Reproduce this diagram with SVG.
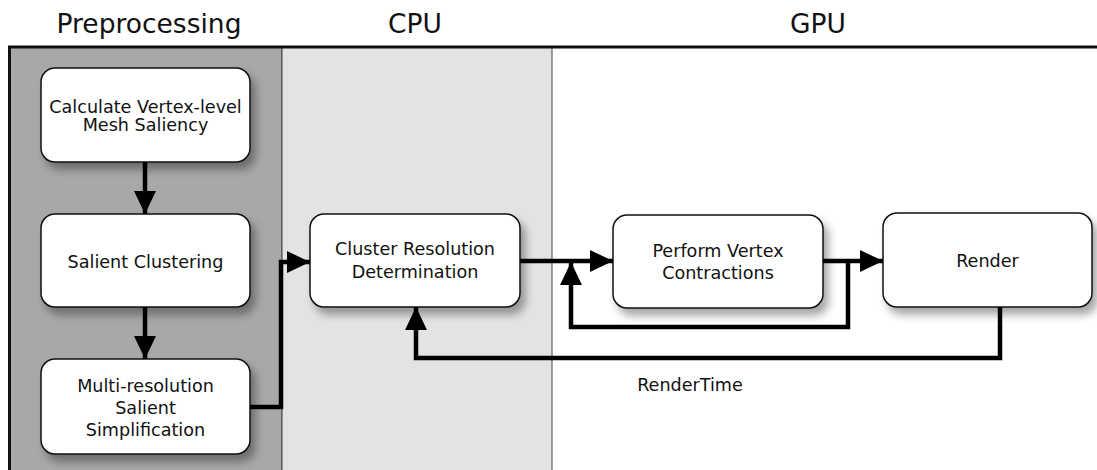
<svg xmlns="http://www.w3.org/2000/svg" width="1097" height="470" viewBox="0 0 1097 470">
<style>
.title{font-family:"DejaVu Sans","Liberation Sans",sans-serif;font-size:26.5px;fill:#111;text-anchor:middle}
.lbl{font-family:"DejaVu Sans","Liberation Sans",sans-serif;font-size:17.6px;fill:#111;text-anchor:middle}
.box{fill:#fff;stroke:#111;stroke-width:1.5}
.conn{fill:none;stroke:#000;stroke-width:4.5;stroke-linejoin:miter}
</style>
<defs>
<filter id="sh" x="-20%" y="-20%" width="150%" height="160%">
<feDropShadow dx="5" dy="7" stdDeviation="4" flood-color="#000" flood-opacity="0.35"/>
</filter>
<marker id="ah" markerUnits="userSpaceOnUse" markerWidth="24" markerHeight="24" viewBox="0 0 24 24" refX="23" refY="12" orient="auto">
<path d="M0,1 L23,12 L0,23 Z" fill="#000"/>
</marker>
</defs>
<rect width="1097" height="470" fill="#fff"/>
<g id="lanes">
<rect x="10" y="47" width="272" height="430" fill="#a8a8a8" stroke="#444" stroke-width="1"/>
<rect x="282" y="47" width="270" height="430" fill="#e3e3e3" stroke="#444" stroke-width="1"/>
<line x1="8" y1="47" x2="1097" y2="47" stroke="#111" stroke-width="3"/>
<line x1="9.5" y1="46" x2="9.5" y2="470" stroke="#111" stroke-width="3"/>
<text class="title" x="149" y="33">Preprocessing</text>
<text class="title" x="415" y="33">CPU</text>
<text class="title" x="818" y="33">GPU</text>
</g>
<g id="n1"><rect class="box" x="41" y="68" width="209" height="94" rx="14" filter="url(#sh)"/>
<text class="lbl" x="145.5" y="113">Calculate Vertex-level</text>
<text class="lbl" x="145.5" y="131">Mesh Saliency</text></g>
<g id="n2"><rect class="box" x="41" y="214" width="209" height="93" rx="14" filter="url(#sh)"/>
<text class="lbl" x="145.5" y="268">Salient Clustering</text></g>
<g id="n3"><rect class="box" x="41" y="359" width="209" height="95" rx="14" filter="url(#sh)"/>
<text class="lbl" x="145.5" y="392">Multi-resolution</text>
<text class="lbl" x="145.5" y="414">Salient</text>
<text class="lbl" x="145.5" y="436">Simplification</text></g>
<g id="n4"><rect class="box" x="310" y="214" width="210" height="93" rx="14" filter="url(#sh)"/>
<text class="lbl" x="415" y="255">Cluster Resolution</text>
<text class="lbl" x="415" y="278">Determination</text></g>
<g id="n5"><rect class="box" x="613" y="215" width="210" height="93" rx="14" filter="url(#sh)"/>
<text class="lbl" x="718" y="257">Perform Vertex</text>
<text class="lbl" x="718" y="279">Contractions</text></g>
<g id="n6"><rect class="box" x="883" y="213" width="209" height="94" rx="14" filter="url(#sh)"/>
<text class="lbl" x="987.5" y="267">Render</text></g>
<g id="connectors">
<path class="conn" d="M145,162 V214" marker-end="url(#ah)"/>
<path class="conn" d="M145,307 V359" marker-end="url(#ah)"/>
<path class="conn" d="M250,407 H281 V262 H310" marker-end="url(#ah)"/>
<path class="conn" d="M520,261 H613" marker-end="url(#ah)"/>
<path class="conn" d="M848,261 V327 H571 V262" marker-end="url(#ah)"/>
<path class="conn" d="M823,261 H883" marker-end="url(#ah)"/>
<path class="conn" d="M1000,307 V358 H416 V307" marker-end="url(#ah)"/>
<text class="lbl" x="690" y="391">RenderTime</text>
</g>
</svg>
